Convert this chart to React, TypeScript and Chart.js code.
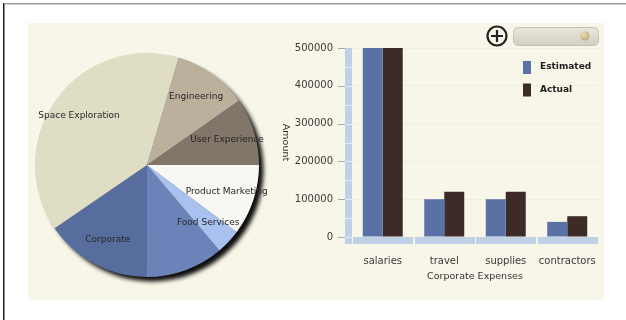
import React, { useEffect, useRef } from "react";
import { Chart, registerables } from "chart.js";

Chart.register(...registerables);

// ---- Pie data (clockwise from 3 o'clock) ----
const pieLabels = ["Product Marketing", "Food Services", "", "Corporate", "Space Exploration", "Engineering", "User Experience"];
const pieValues = [102, 36, 112, 154, 391, 107, 97];
const pieColors = ["#f7f7f3", "#a9c1ee", "#6b83b8", "#576d9e", "#e0ddc5", "#bbb09c", "#82756a"];

// ---- Bar data ----
const barCategories = ["salaries", "travel", "supplies", "contractors"];
const estimatedValues = [500000, 100000, 100000, 40000];
const actualValues = [500000, 120000, 120000, 55000];
const seriesNames = ["Estimated", "Actual"];
const seriesColors = ["#5a71a5", "#3d2b27"];
const yTicks = [0, 100000, 200000, 300000, 400000, 500000];
const yAxisTitle = "Amount";
const xAxisTitle = "Corporate Expenses";

const FONT = "'DejaVu Sans', sans-serif";

const pieDecor = {
  id: "pieDecor",
  beforeDatasetsDraw(chart: any) {
    const a = chart.getDatasetMeta(0).data[0];
    if (!a) return;
    const { x, y, outerRadius } = a.getProps(["x", "y", "outerRadius"], true);
    const ctx = chart.ctx;
    ctx.save();
    ctx.shadowColor = "rgba(0,0,0,0.95)";
    ctx.shadowOffsetX = 5;
    ctx.shadowOffsetY = 5;
    ctx.shadowBlur = 4;
    ctx.beginPath();
    ctx.arc(x, y, outerRadius - 0.5, 0, Math.PI * 2);
    ctx.fillStyle = "#777";
    ctx.fill();
    ctx.restore();
  },
  afterDatasetsDraw(chart: any) {
    const meta = chart.getDatasetMeta(0);
    const ctx = chart.ctx;
    const first = meta.data[0];
    const { x, y, outerRadius } = first.getProps(["x", "y", "outerRadius"], true);
    ctx.save();
    ctx.font = `9px ${FONT}`;
    ctx.fillStyle = "#262626";
    ctx.textAlign = "center";
    ctx.textBaseline = "middle";
    meta.data.forEach((arc: any, i: number) => {
      const label = chart.data.labels[i];
      if (!label) return;
      const p = arc.getProps(["startAngle", "endAngle"], true);
      const mid = (p.startAngle + p.endAngle) / 2;
      const r = outerRadius * 0.75;
      ctx.fillText(label, x + Math.cos(mid) * r, y + Math.sin(mid) * r);
    });
    ctx.restore();
  },
};

function roundRect(ctx: CanvasRenderingContext2D, x: number, y: number, w: number, h: number, r: number) {
  ctx.beginPath();
  ctx.moveTo(x + r, y);
  ctx.lineTo(x + w - r, y);
  ctx.quadraticCurveTo(x + w, y, x + w, y + r);
  ctx.lineTo(x + w, y + h - r);
  ctx.quadraticCurveTo(x + w, y + h, x + w - r, y + h);
  ctx.lineTo(x + r, y + h);
  ctx.quadraticCurveTo(x, y + h, x, y + h - r);
  ctx.lineTo(x, y + r);
  ctx.quadraticCurveTo(x, y, x + r, y);
  ctx.closePath();
}

const barDecor = {
  id: "barDecor",
  afterDraw(chart: any) {
    const ctx = chart.ctx as CanvasRenderingContext2D;
    const { left, right, top, bottom } = chart.chartArea;
    const ys = chart.scales.y;
    ctx.save();
    // y axis bar
    const yTop = ys.getPixelForValue(ys.max);
    ctx.fillStyle = "#bfd1e7";
    ctx.fillRect(left - 7, yTop, 7, bottom + 7 - yTop);
    ctx.fillStyle = "#e4ecf5";
    for (let v = 50000; v < ys.max; v += 50000) {
      const py = Math.round(ys.getPixelForValue(v));
      ctx.fillRect(left - 7, py, 7, 1);
    }
    ctx.fillRect(left - 7, Math.round(bottom), 7, 1);
    // x axis segments
    const n = barCategories.length;
    const cw = (right - left) / n;
    ctx.fillStyle = "#bfd1e7";
    for (let i = 0; i < n; i++) {
      const x0 = left + i * cw + 1;
      ctx.fillRect(Math.round(x0), bottom, Math.round(cw - 2), 7);
    }
    // tick marks
    ctx.strokeStyle = "#a8a8a8";
    ctx.lineWidth = 1;
    yTicks.forEach((v) => {
      const py = Math.round(ys.getPixelForValue(v)) + 0.5;
      ctx.beginPath();
      ctx.moveTo(left - 14, py);
      ctx.lineTo(left - 7, py);
      ctx.stroke();
    });
    // axis titles
    ctx.fillStyle = "#333";
    ctx.font = `9.5px ${FONT}`;
    ctx.textAlign = "center";
    ctx.textBaseline = "middle";
    ctx.save();
    ctx.translate(15, (top + bottom) / 2);
    ctx.rotate(Math.PI / 2);
    ctx.fillText(yAxisTitle, 0, 0);
    ctx.restore();
    ctx.fillText(xAxisTitle, (left + right) / 2, bottom + 40);
    // legend
    ctx.font = `bold 9px ${FONT}`;
    ctx.textAlign = "left";
    seriesNames.forEach((name, i) => {
      const cy = 44 + i * 22.5;
      ctx.fillStyle = seriesColors[i];
      ctx.fillRect(253, cy - 6, 8, 13);
      ctx.fillStyle = "#1e1e1e";
      ctx.fillText(name, 270, cy);
    });
    // plus icon
    ctx.strokeStyle = "#222";
    ctx.lineWidth = 2.2;
    ctx.beginPath();
    ctx.arc(227, 13, 9.5, 0, Math.PI * 2);
    ctx.stroke();
    ctx.beginPath();
    ctx.moveTo(221, 13);
    ctx.lineTo(233, 13);
    ctx.moveTo(227, 7);
    ctx.lineTo(227, 19);
    ctx.stroke();
    // button
    const g = ctx.createLinearGradient(0, 4, 0, 22);
    g.addColorStop(0, "#e9e6dc");
    g.addColorStop(1, "#d3cfc2");
    roundRect(ctx, 243.5, 4.5, 85, 18, 5);
    ctx.fillStyle = g;
    ctx.fill();
    ctx.strokeStyle = "#c4c0b3";
    ctx.lineWidth = 1;
    ctx.stroke();
    const g2 = ctx.createRadialGradient(313, 11, 1, 315, 13, 5);
    g2.addColorStop(0, "#f0d9a0");
    g2.addColorStop(1, "#b9a98a");
    ctx.beginPath();
    ctx.arc(315, 13, 4.5, 0, Math.PI * 2);
    ctx.fillStyle = g2;
    ctx.fill();
    ctx.restore();
  },
};

export default function App() {
  const pieRef = useRef<HTMLCanvasElement>(null);
  const barRef = useRef<HTMLCanvasElement>(null);

  useEffect(() => {
    document.body.style.margin = "0";
    const pie = new Chart(pieRef.current!, {
      type: "pie",
      data: {
        labels: pieLabels,
        datasets: [{ data: pieValues, backgroundColor: pieColors, borderWidth: 0 }],
      },
      options: {
        responsive: false,
        animation: false,
        rotation: 90,
        layout: { padding: { left: 8, top: 8, right: 18, bottom: 18 } },
        plugins: { legend: { display: false }, tooltip: { enabled: false } },
      },
      plugins: [pieDecor],
    } as any);

    const bar = new Chart(barRef.current!, {
      type: "bar",
      data: {
        labels: barCategories,
        datasets: [
          { label: seriesNames[0], data: estimatedValues, backgroundColor: seriesColors[0], categoryPercentage: 0.65, barPercentage: 1 },
          { label: seriesNames[1], data: actualValues, backgroundColor: seriesColors[1], categoryPercentage: 0.65, barPercentage: 1 },
        ],
      },
      options: {
        responsive: false,
        animation: false,
        layout: { padding: { left: 0, top: 25, right: 7, bottom: 0 } },
        plugins: { legend: { display: false }, tooltip: { enabled: false } },
        scales: {
          x: {
            grid: { display: false, drawTicks: false },
            border: { display: false },
            ticks: { font: { family: FONT, size: 10 }, color: "#3a3a3a", padding: 18, maxRotation: 0, minRotation: 0, autoSkip: false },
            afterFit(s: any) { s.height = 63; s.paddingLeft = 0; s.paddingRight = 0; },
          },
          y: {
            min: 0,
            max: 500000,
            afterBuildTicks(s: any) { s.ticks = yTicks.map((v) => ({ value: v })); },
            grid: { drawTicks: false, color: "rgba(0,0,0,0.035)" },
            border: { display: false },
            ticks: { font: { family: FONT, size: 10 }, color: "#3a3a3a", padding: 19, callback: (v: any) => String(v) },
            afterFit(s: any) { s.width = 82; },
          },
        },
      },
      plugins: [barDecor],
    } as any);

    return () => {
      pie.destroy();
      bar.destroy();
    };
  }, []);

  return (
    <div style={{ position: "relative", width: 626, height: 320, background: "#fff", overflow: "hidden" }}>
      <div style={{ position: "absolute", left: 3, top: 3, width: 623, height: 1, background: "#999" }} />
      <div style={{ position: "absolute", left: 3, top: 4, width: 623, height: 1, background: "#d0d0d0" }} />
      <div style={{ position: "absolute", left: 3, top: 3, width: 1, height: 317, background: "#222" }} />
      <div style={{ position: "absolute", left: 4, top: 4, width: 1, height: 316, background: "#888" }} />
      <div style={{ position: "absolute", left: 28, top: 23, width: 576, height: 277, background: "#f8f6e8" }} />
      <canvas ref={pieRef} width={250} height={250} style={{ position: "absolute", left: 27, top: 45, width: 250, height: 250 }} />
      <canvas ref={barRef} width={335} height={277} style={{ position: "absolute", left: 270, top: 23, width: 335, height: 277 }} />
    </div>
  );
}
